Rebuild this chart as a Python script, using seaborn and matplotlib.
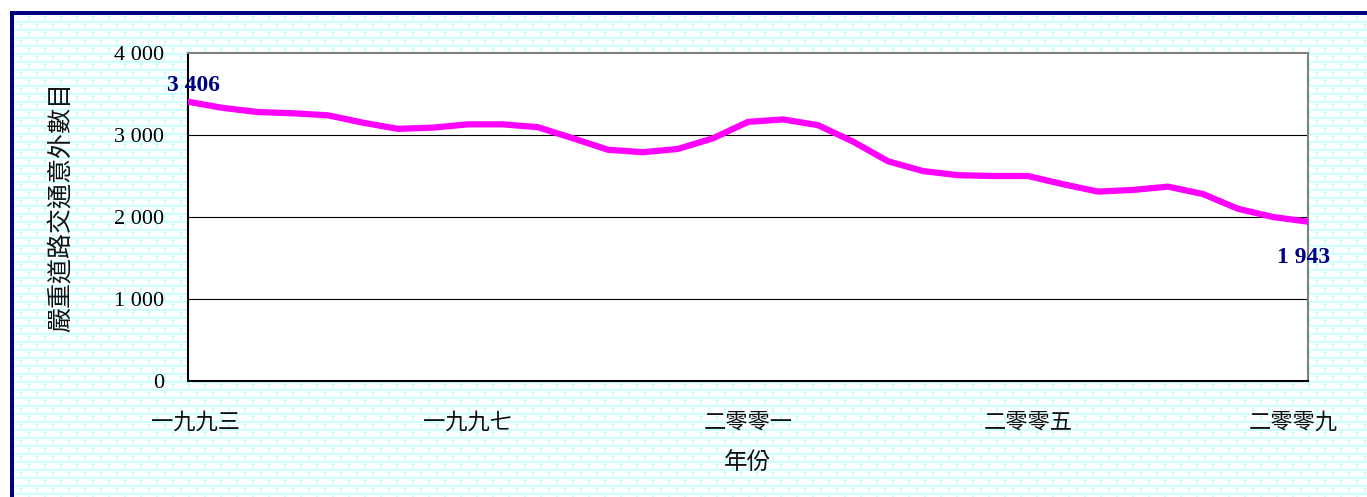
import numpy as np
import pandas as pd
import matplotlib
matplotlib.use("Agg")
import matplotlib.pyplot as plt
import matplotlib.transforms as mtransforms
import seaborn as sns

# Serious road traffic accidents, half-yearly readings 1993-2009
periods = np.arange(1993, 2009.5, 0.5)
accidents = [3406, 3330, 3280, 3265, 3240, 3150, 3075, 3090, 3130, 3130,
             3095, 2960, 2820, 2790, 2830, 2960, 3160, 3190, 3120, 2920,
             2680, 2560, 2510, 2500, 2500, 2400, 2310, 2330, 2370, 2280,
             2100, 2000, 1943]

label_years = [1993, 1997, 2001, 2005, 2009]
label_text = ["一九九三", "一九九七", "二零零一", "二零零五", "二零零九"]
y_ticks = [0, 1000, 2000, 3000, 4000]
y_tick_text = ["0", "1 000", "2 000", "3 000", "4 000"]

df = pd.DataFrame({"年份": periods, "數目": accidents})

sns.set_style("white")
plt.rcParams["font.family"] = ["Liberation Serif", "Noto Sans CJK TC", "DejaVu Sans"]
plt.rcParams["text.color"] = "black"
plt.rcParams["axes.labelcolor"] = "black"
plt.rcParams["xtick.color"] = "black"
plt.rcParams["ytick.color"] = "black"

W, H, DPI = 1367, 497, 100
fig = plt.figure(figsize=(W / DPI, H / DPI), dpi=DPI, facecolor="white")

# Brick-pattern backdrop with a navy frame
bg = np.ones((H, W, 3))
mortar = np.array([204, 255, 255]) / 255.0
yy, xx = np.mgrid[0:H, 0:W]
row = (yy - 15) // 8
in_mortar = ((yy - 15) % 8 >= 6) | (((xx - 14 + (row % 2) * 8) % 16) >= 14)
inside = (yy >= 15) & (xx >= 14)
bg[inside & in_mortar] = mortar
navy = np.array([0, 0, 128]) / 255.0
bg[11:15, 10:] = navy
bg[11:, 10:14] = navy
fig.figimage(bg, xo=0, yo=0, origin="upper", zorder=-10)

ax = fig.add_axes([188 / W, 116 / H, 1120 / W, 328 / H])
ax.set_zorder(5)
ax.set_facecolor("white")

sns.lineplot(data=df, x="年份", y="數目", ax=ax, color="#FF00FF",
             linewidth=4.5, estimator=None, solid_joinstyle="round",
             solid_capstyle="round", zorder=3)

ax.set_xlim(1993, 2009)
ax.set_ylim(0, 4000)
ax.set_yticks(y_ticks)
ax.set_yticklabels(y_tick_text, fontsize=16, family="Liberation Serif", color="black")
ax.tick_params(axis="y", length=0, pad=17)

all_years = list(range(1993, 2010))
ax.set_xticks(all_years)
ax.set_xticklabels([label_text[label_years.index(y)] if y in label_years else ""
                    for y in all_years], fontsize=16, family=["Noto Sans CJK TC"],
                   color="#111111")
ax.tick_params(axis="x", direction="in", length=6, width=1, color="black", pad=21)

# keep the end labels inside the plot width
xlabels = ax.get_xticklabels()
for lbl, dx in [(xlabels[0], 7), (xlabels[-1], -15)]:
    lbl.set_transform(lbl.get_transform()
                      + mtransforms.ScaledTranslation(dx / DPI, 0, fig.dpi_scale_trans))

for v in [1000, 2000, 3000]:
    ax.axhline(v, color="black", linewidth=0.8, zorder=1)

for side in ["left", "bottom"]:
    ax.spines[side].set_color("black")
    ax.spines[side].set_linewidth(1.5)
for side in ["top", "right"]:
    ax.spines[side].set_color("#808080")
    ax.spines[side].set_linewidth(1.5)

ax.set_xlabel("年份", fontsize=17, family=["Noto Sans CJK TC"], labelpad=13,
              color="#111111")
ax.set_ylabel("")
fig.text(62 / W, 1 - 207 / H, "嚴重道路交通意外數目", rotation=90,
         ha="center", va="center", fontsize=18, family=["Noto Sans CJK TC"],
         color="#111111")

first, last = accidents[0], accidents[-1]
ax.annotate(f"{first:,}".replace(",", " "), xy=(periods[0], first),
            xytext=(4, 12), textcoords="offset points", ha="center", va="center",
            fontsize=17, fontweight="bold", color="#000080", family="Liberation Serif",
            annotation_clip=False)
ax.annotate(f"{last:,}".replace(",", " "), xy=(periods[-1], last),
            xytext=(-3, -26), textcoords="offset points", ha="center", va="center",
            fontsize=17, fontweight="bold", color="#000080", family="Liberation Serif",
            annotation_clip=False)

fig.savefig("out.png", dpi=DPI)
